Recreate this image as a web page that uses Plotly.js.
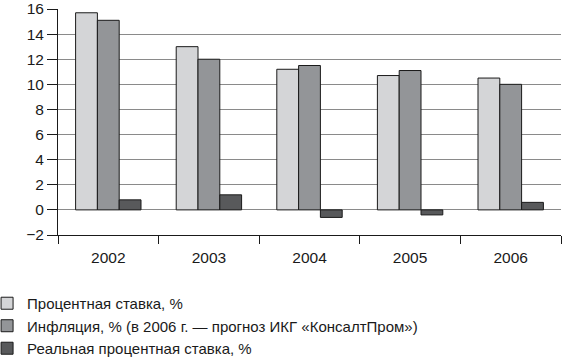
<!DOCTYPE html>
<html><head><meta charset="utf-8">
<script src="https://cdn.plot.ly/plotly-3.0.1.min.js"></script>
<style>html,body{margin:0;padding:0;background:#fff}</style>
</head><body><div id="chart" style="width:567px;height:358px"></div>
<script>
const years = ['2002','2003','2004','2005','2006'];
const interestRate = [15.7, 13.0, 11.2, 10.7, 10.5];
const inflation = [15.1, 12.0, 11.5, 11.1, 10.0];
const realRate = [0.8, 1.2, -0.6, -0.4, 0.6];
const seriesNames = ['Процентная ставка, %', 'Инфляция, % (в 2006 г. — прогноз ИКГ «КонсалтПром»)', 'Реальная процентная ставка, %'];
const yTicks = [-2, 0, 2, 4, 6, 8, 10, 12, 14, 16];
const boundaries = [-0.5, 0.5, 1.5, 2.5, 3.5, 4.5];

const font = {family: 'Liberation Sans, Arial, sans-serif', size: 15.5, color: '#1a1a1a'};
const legendFont = {family: 'Liberation Sans, Arial, sans-serif', size: 15, color: '#1a1a1a'};
const colors = ['#d4d5d7', '#939598', '#58595b'];
const data = [interestRate, inflation, realRate].map((v, i) => ({
  type: 'bar', x: years, y: v, name: seriesNames[i],
  marker: {color: colors[i], line: {color: '#1a1a1a', width: 1}},
  hoverinfo: 'none'
}));

const layout = {
  width: 567, height: 358,
  margin: {l: 58, r: 6, t: 9, b: 123, autoexpand: false},
  paper_bgcolor: '#fff', plot_bgcolor: '#fff',
  font: font,
  barmode: 'group', bargap: 0.35, bargroupgap: 0,
  showlegend: true,
  legend: {x: -0.141, y: -0.23, xanchor: 'left', yanchor: 'top', orientation: 'v',
           font: legendFont, traceorder: 'normal', itemwidth: 30, tracegroupgap: 0},
  xaxis: {type: 'category', categoryarray: years, range: [-0.5, 4.5],
          showline: true, linecolor: '#1a1a1a', linewidth: 1,
          ticks: 'outside', tickson: 'boundaries', ticklen: 8, tickcolor: '#1a1a1a',
          ticklabelstandoff: 8,
          showgrid: false, zeroline: false, tickfont: font},
  xaxis2: {overlaying: 'x', anchor: 'free', position: 2/18, range: [-0.5, 4.5],
           tickvals: boundaries, showticklabels: false, showline: true,
           linecolor: '#1a1a1a', linewidth: 1, ticks: 'outside', ticklen: 8,
           tickcolor: '#1a1a1a', showgrid: false, zeroline: false},
  yaxis: {range: [-2, 16], tickvals: yTicks, showline: true, linecolor: '#1a1a1a',
          linewidth: 1, ticks: 'outside', ticklen: 10, tickcolor: '#1a1a1a',
          showgrid: true, gridcolor: '#8a8a8a', gridwidth: 1, zeroline: false,
          tickfont: font}
};
Plotly.newPlot('chart', data, layout, {displayModeBar: false, staticPlot: true});
</script></body></html>
